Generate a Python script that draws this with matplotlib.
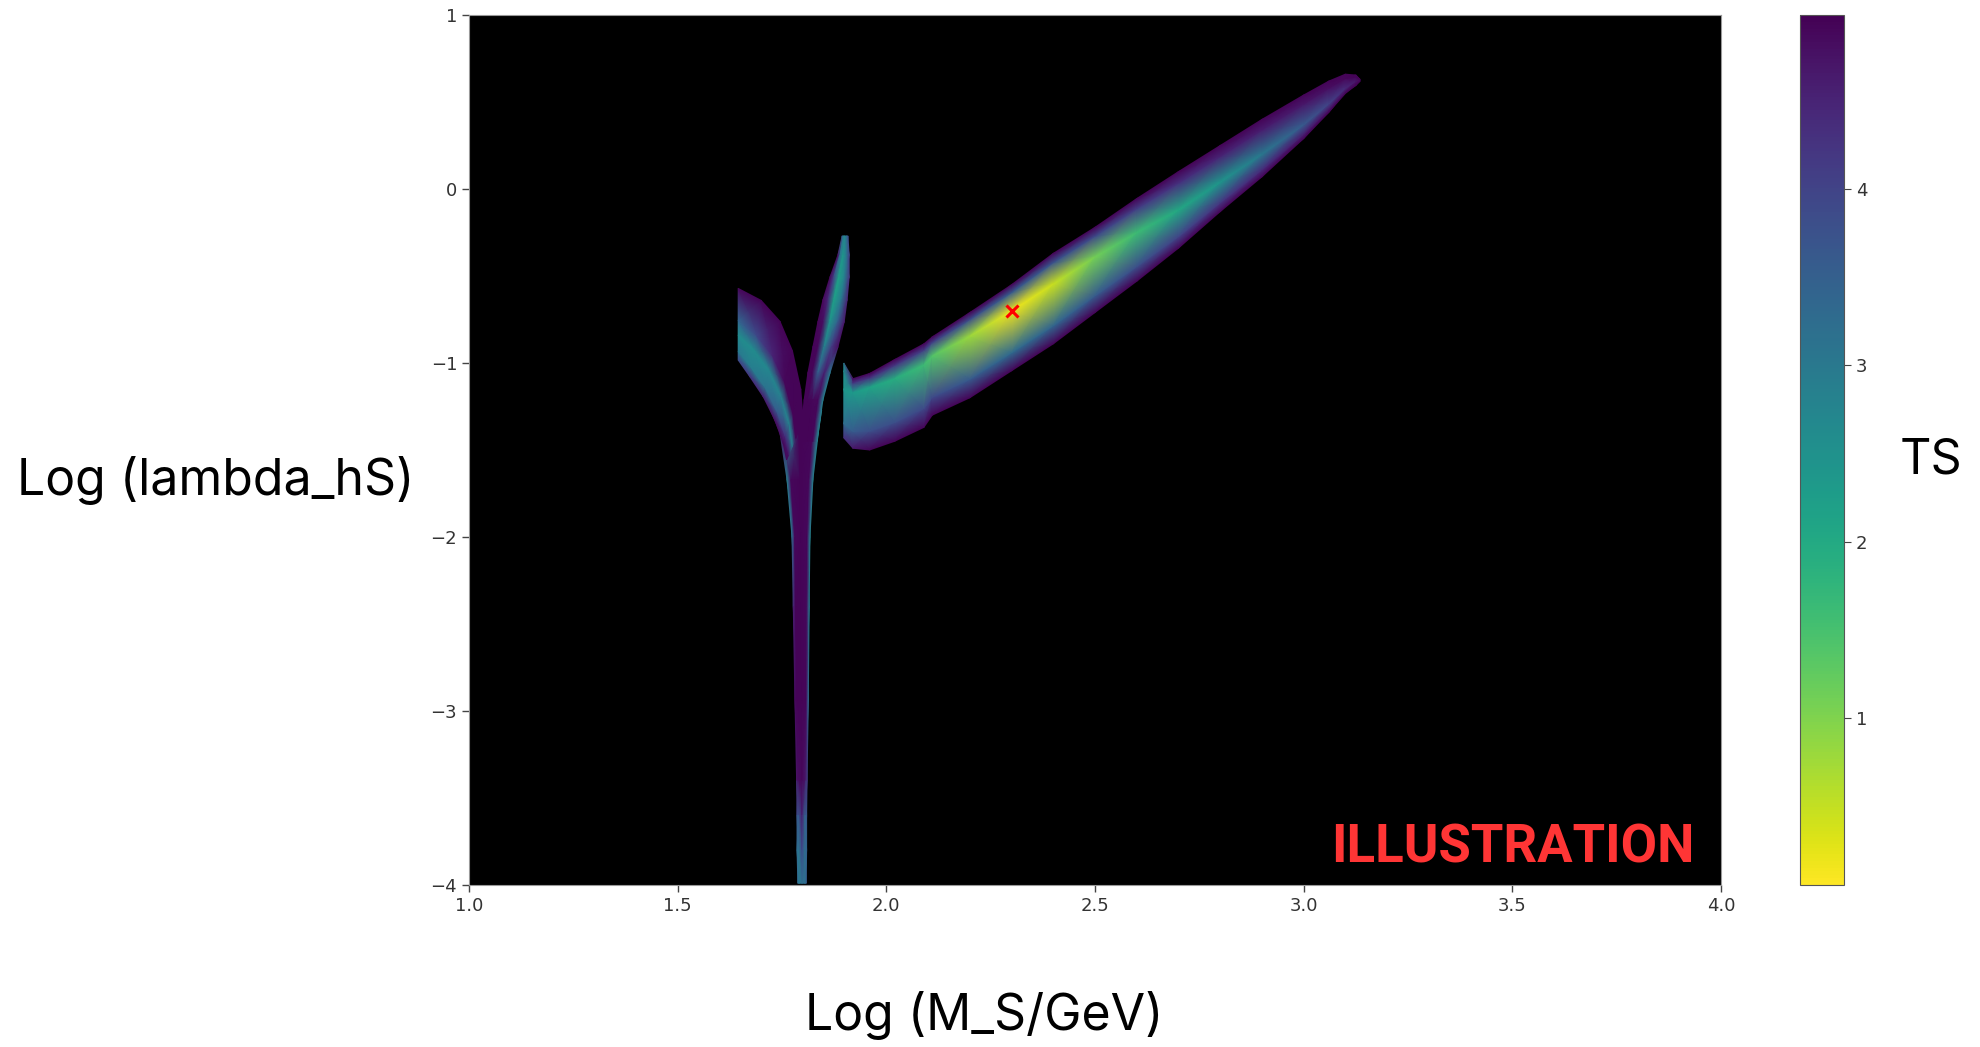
import numpy as np
import matplotlib
matplotlib.use("Agg")
import matplotlib.pyplot as plt
from matplotlib.colors import Normalize

# --- data ---
# main band: vertical cross sections (bottom edge, ridge, top edge) and TS along them
main_x = [1.898, 1.92, 1.96, 2.02, 2.09, 2.11, 2.20, 2.30, 2.40, 2.50, 2.60, 2.70, 2.80, 2.90, 3.00, 3.06, 3.10, 3.125, 3.135]
main_top = [-1.00, -1.09, -1.06, -0.98, -0.89, -0.85, -0.71, -0.55, -0.37, -0.22, -0.055, 0.10, 0.25, 0.40, 0.54, 0.62, 0.66, 0.655, 0.63]
main_ridge = [-1.15, -1.17, -1.14, -1.09, -1.01, -0.96, -0.845, -0.70, -0.545, -0.39, -0.25, -0.12, 0.04, 0.20, 0.37, 0.49, 0.58, 0.62, 0.625]
main_bot = [-1.43, -1.49, -1.50, -1.45, -1.37, -1.30, -1.20, -1.045, -0.89, -0.71, -0.53, -0.34, -0.13, 0.07, 0.29, 0.44, 0.55, 0.595, 0.62]
main_ts_top = [2.8, 4.9, 4.95, 4.95, 4.95, 4.95, 4.95, 4.95, 4.95, 4.95, 4.95, 4.95, 4.95, 4.95, 4.95, 4.95, 4.95, 4.95, 4.95]
main_ts_top_in = [2.6, 4.2, 4.3, 4.2, 4.1, 4.0, 3.8, 3.6, 3.7, 3.9, 4.1, 4.3, 4.5, 4.6, 4.7, 4.8, 4.9, 4.95, 4.95]
main_ts_ridge = [2.4, 2.3, 2.1, 1.9, 1.6, 1.4, 0.8, 0.15, 0.45, 1.1, 1.6, 2.0, 2.4, 3.0, 3.6, 4.0, 4.4, 4.7, 4.9]
main_ts_bot_in = [3.2, 3.6, 3.8, 3.8, 3.9, 3.9, 3.6, 3.3, 3.4, 3.6, 3.8, 4.0, 4.2, 4.4, 4.6, 4.75, 4.85, 4.95, 4.95]
main_ts_bot = [4.3, 4.7, 4.95, 4.95, 4.95, 4.95, 4.95, 4.95, 4.95, 4.95, 4.95, 4.95, 4.95, 4.95, 4.95, 4.95, 4.95, 4.95, 4.95]

# left arm of the V: lower-left edge (a) and upper-right edge (b)
larm_ax = [1.645, 1.673, 1.705, 1.733, 1.753, 1.761]
larm_ay = [-0.983, -1.079, -1.194, -1.328, -1.462, -1.557]
larm_bx = [1.645, 1.700, 1.745, 1.775, 1.795, 1.801]
larm_by = [-0.571, -0.640, -0.760, -0.930, -1.150, -1.330]
larm_frac = [0.0, 0.12, 0.35, 0.55, 1.0]
larm_ts = [[3.9, 3.0, 2.6, 3.4, 4.9],
           [4.3, 2.9, 2.6, 3.9, 4.95],
           [4.6, 3.1, 2.7, 4.5, 4.95],
           [4.8, 3.6, 2.8, 4.9, 4.95],
           [4.9, 4.4, 2.8, 4.95, 4.95],
           [4.9, 4.8, 2.9, 4.95, 4.95]]

# right arm of the V
rarm_ax = [1.894, 1.884, 1.865, 1.848, 1.836, 1.824, 1.812, 1.803, 1.798, 1.795]
rarm_ay = [-0.270, -0.379, -0.506, -0.638, -0.764, -0.908, -1.057, -1.213, -1.328, -1.45]
rarm_bx = [1.908, 1.911, 1.911, 1.906, 1.899, 1.884, 1.865, 1.848, 1.841, 1.834]
rarm_by = [-0.270, -0.379, -0.506, -0.638, -0.764, -0.908, -1.057, -1.213, -1.328, -1.45]
rarm_frac = [0.0, 0.2, 0.45, 0.75, 1.0]
rarm_ts = [[3.5, 3.0, 2.8, 3.2, 3.8],
           [4.9, 3.0, 2.4, 3.0, 4.0],
           [4.9, 4.0, 2.2, 2.8, 4.2],
           [4.9, 4.5, 2.2, 3.0, 4.5],
           [4.95, 4.8, 2.4, 3.5, 4.7],
           [4.95, 4.9, 2.8, 4.2, 4.8],
           [4.95, 4.95, 3.5, 4.6, 3.0],
           [4.95, 4.95, 4.9, 4.9, 2.8],
           [4.95, 4.95, 4.95, 4.9, 2.8],
           [4.95, 4.95, 4.95, 4.9, 2.8]]

# stem going down to the bottom of the plot
stem_y = [-1.27, -1.40, -1.67, -2.00, -2.40, -2.94, -3.40, -3.60, -3.80, -3.99]
stem_xl = [1.722, 1.745, 1.762, 1.774, 1.777, 1.781, 1.785, 1.786, 1.786, 1.788]
stem_xr = [1.845, 1.837, 1.824, 1.817, 1.815, 1.813, 1.810, 1.809, 1.809, 1.808]
stem_frac = [0.0, 0.15, 0.5, 0.85, 1.0]
stem_ts = [[4.9, 3.0, 4.95, 4.9, 2.8],
           [4.9, 2.8, 4.95, 4.9, 2.8],
           [2.8, 4.9, 4.95, 4.9, 2.8],
           [3.2, 4.9, 4.95, 4.9, 2.8],
           [4.5, 4.95, 4.95, 4.9, 3.0],
           [4.9, 4.95, 4.95, 4.9, 3.2],
           [4.7, 4.8, 4.9, 4.7, 4.2],
           [3.8, 3.6, 4.6, 3.4, 3.8],
           [3.2, 3.0, 3.9, 3.2, 3.5],
           [3.4, 3.0, 3.2, 3.2, 3.6]]

best_fit = (2.30, -0.70)

x_ticks = [1.0, 1.5, 2.0, 2.5, 3.0, 3.5, 4.0]
y_ticks = [1, 0, -1, -2, -3, -4]
cbar_ticks = [1, 2, 3, 4]
ts_min, ts_max = 0.05, 4.99

cmap = plt.get_cmap("viridis_r")
norm = Normalize(vmin=ts_min, vmax=ts_max)


def band_mesh(ax_, ay_, bx_, by_, frac):
    ax_, ay_, bx_, by_ = map(np.asarray, (ax_, ay_, bx_, by_))
    f = np.asarray(frac)[None, :]
    X = ax_[:, None] + f * (bx_ - ax_)[:, None]
    Y = ay_[:, None] + f * (by_ - ay_)[:, None]
    return X, Y


fig = plt.figure(figsize=(19.8, 10.47), dpi=100)
ax = fig.add_axes([469 / 1980, 1 - 885 / 1047, 1252 / 1980, 870 / 1047])
ax.set_facecolor("black")

# main band: inner columns sit 30% of the way from each edge to the ridge
mx = np.asarray(main_x)
top, ridge, bot = map(np.asarray, (main_top, main_ridge, main_bot))
X = np.column_stack([mx] * 5)
Y = np.column_stack([bot, bot + 0.3 * (ridge - bot), ridge, top + 0.3 * (ridge - top), top])
C = np.column_stack([main_ts_bot, main_ts_bot_in, main_ts_ridge, main_ts_top_in, main_ts_top])
mesh = ax.pcolormesh(X, Y, C, shading="gouraud", cmap=cmap, norm=norm)

# V-shaped structure
X, Y = band_mesh(stem_xl, stem_y, stem_xr, stem_y, stem_frac)
ax.pcolormesh(X, Y, np.asarray(stem_ts), shading="gouraud", cmap=cmap, norm=norm)
X, Y = band_mesh(larm_ax, larm_ay, larm_bx, larm_by, larm_frac)
ax.pcolormesh(X, Y, np.asarray(larm_ts), shading="gouraud", cmap=cmap, norm=norm)
X, Y = band_mesh(rarm_ax, rarm_ay, rarm_bx, rarm_by, rarm_frac)
ax.pcolormesh(X, Y, np.asarray(rarm_ts), shading="gouraud", cmap=cmap, norm=norm)

ax.plot(best_fit[0], best_fit[1], marker="x", color="red", markersize=9,
        markeredgewidth=2.2, linestyle="none")

ax.set_xlim(1.0, 4.0)
ax.set_ylim(-4, 1)
ax.set_xticks(x_ticks)
ax.set_xticklabels([f"{t:.1f}" for t in x_ticks])
ax.set_yticks(y_ticks)
ax.set_yticklabels([str(t).replace("-", "\u2212") for t in y_ticks])
ax.tick_params(labelsize=13, colors="#444444", length=5, width=1, labelcolor="#333333")
for s in ax.spines.values():
    s.set_color("#999999")

ax.text(0.979, 0.026, "ILLUSTRATION", transform=ax.transAxes, ha="right", va="baseline",
        fontsize=38, fontweight="bold", color="#ff3535", family="Roboto")

# colorbar
cax = fig.add_axes([1800 / 1980, 1 - 885 / 1047, 44 / 1980, 870 / 1047])
cb = fig.colorbar(mesh, cax=cax)
cb.set_ticks(cbar_ticks)
cb.ax.tick_params(labelsize=13, colors="#444444", length=5, labelcolor="#333333")
cb.outline.set_edgecolor("#555555")

fig.text(0.497, 0.030, "Log (M_S/GeV)", ha="center", va="center", fontsize=36, family="Inter")
fig.text(0.109, 0.5415, "Log (lambda_hS)", ha="center", va="center", fontsize=36, family="Inter")
fig.text(0.975, 0.5597, "TS", ha="center", va="center", fontsize=35, family="Inter")

fig.savefig("out.png", dpi=100, facecolor="white")
